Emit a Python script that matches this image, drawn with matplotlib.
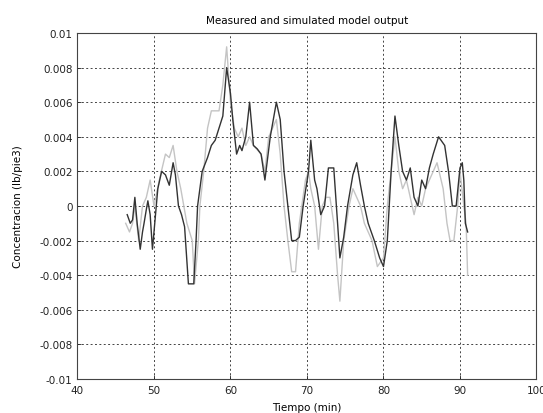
import matplotlib
matplotlib.use('Agg')
import matplotlib.pyplot as plt
import numpy as np

# measured output (dark line)
t_meas = [46.5, 46.9, 47.2, 47.5, 47.8, 48.2, 48.5, 48.7, 49.0, 49.2, 49.5, 49.8, 50.0,
          50.5, 51.0, 51.5, 52.0, 52.5, 52.8, 53.2, 53.6, 54.0, 54.5, 55.2, 55.5, 55.7,
          56.3, 57.0, 57.5, 58.0, 58.5, 59.0, 59.5, 60.0, 60.3, 60.8, 61.2, 61.5, 62.0,
          62.5, 63.0, 63.5, 64.0, 64.5, 65.2, 66.0, 66.5, 67.0, 67.5, 68.0, 68.5, 69.0,
          69.5, 70.2, 70.5, 71.0, 71.3, 71.8, 72.3, 72.8, 73.5, 74.0, 74.3, 74.8, 75.3,
          76.0, 76.5, 77.0, 77.5, 78.0, 78.8, 79.5, 80.0, 80.5, 81.0, 81.5, 82.0, 82.5,
          83.0, 83.5, 84.0, 84.5, 85.0, 85.5, 86.0, 86.5, 87.2, 88.0, 88.5, 89.0, 89.5,
          90.0, 90.3, 90.5, 90.7, 91.0]
y_meas = [-0.0005, -0.0010, -0.0008, 0.0005, -0.0010, -0.0025, -0.0015, -0.0010, -0.0002, 0.0003,
          -0.0005, -0.0025, -0.0015, 0.0010, 0.0020, 0.0018, 0.0012, 0.0025, 0.0018, 0.0000,
          -0.0005, -0.0012, -0.0045, -0.0045, -0.0020, 0.0000, 0.0020, 0.0028, 0.0035, 0.0038,
          0.0045, 0.0052, 0.0080, 0.0065, 0.0050, 0.0030, 0.0035, 0.0032, 0.0040, 0.0060,
          0.0035, 0.0033, 0.0030, 0.0015, 0.0040, 0.0060, 0.0050, 0.0020, 0.0000, -0.0020,
          -0.0020, -0.0018, 0.0000, 0.0020, 0.0038, 0.0015, 0.0010, -0.0005, 0.0000, 0.0022,
          0.0022, -0.0010, -0.0030, -0.0018, 0.0000, 0.0018, 0.0025, 0.0012, 0.0000, -0.0010,
          -0.0020, -0.0030, -0.0035, -0.0020, 0.0020, 0.0052, 0.0035, 0.0020, 0.0015, 0.0022,
          0.0005, 0.0000, 0.0015, 0.0010, 0.0022, 0.0030, 0.0040, 0.0035, 0.0020, 0.0000,
          0.0000, 0.0022, 0.0025, 0.0015, -0.0010, -0.0015]

# simulated model output (light line)
t_sim = [46.3, 46.8, 47.2, 47.5, 48.0, 48.5, 49.0, 49.5, 50.0, 50.7, 51.5, 52.0, 52.5,
         53.0, 53.5, 54.3, 55.0, 55.3, 55.8, 56.0, 56.5, 57.0, 57.5, 58.5, 59.0, 59.5,
         60.0, 60.5, 61.0, 61.5, 62.0, 62.5, 63.0, 64.0, 64.5, 65.0, 66.0, 66.5, 67.0,
         67.5, 68.0, 68.5, 69.0, 69.8, 70.2, 70.5, 71.0, 71.5, 72.0, 72.5, 73.0, 73.5,
         74.0, 74.3, 74.8, 75.5, 76.0, 76.5, 77.0, 77.5, 78.5, 79.2, 80.0, 80.5, 81.0,
         81.5, 82.0, 82.5, 83.0, 83.5, 84.0, 84.5, 85.0, 85.5, 86.0, 86.5, 87.0, 87.8,
         88.3, 88.7, 89.2, 89.7, 90.0, 90.5, 90.8, 91.0]
y_sim = [-0.0010, -0.0015, -0.0010, 0.0000, -0.0020, 0.0000, 0.0005, 0.0015, 0.0000, 0.0015,
         0.0030, 0.0028, 0.0035, 0.0020, 0.0010, -0.0010, -0.0020, -0.0045, -0.0020, 0.0000,
         0.0020, 0.0045, 0.0055, 0.0055, 0.0070, 0.0092, 0.0060, 0.0045, 0.0040, 0.0045,
         0.0035, 0.0040, 0.0035, 0.0030, 0.0020, 0.0040, 0.0050, 0.0030, 0.0000, -0.0020,
         -0.0038, -0.0038, -0.0010, 0.0015, 0.0020, 0.0010, 0.0000, -0.0025, 0.0000, 0.0005,
         0.0005, -0.0010, -0.0040, -0.0055, -0.0020, 0.0000, 0.0010, 0.0005, 0.0000, -0.0010,
         -0.0020, -0.0035, -0.0030, 0.0000, 0.0020, 0.0040, 0.0020, 0.0010, 0.0015, 0.0005,
         -0.0005, 0.0005, 0.0000, 0.0010, 0.0015, 0.0020, 0.0025, 0.0010, -0.0010, -0.0020,
         -0.0020, 0.0000, 0.0020, 0.0000, -0.0010, -0.0040]

xticks = [40, 50, 60, 70, 80, 90, 100]
yticks = [-0.01, -0.008, -0.006, -0.004, -0.002, 0, 0.002, 0.004, 0.006, 0.008, 0.01]
yticklabels = ['-0.01', '-0.008', '-0.006', '-0.004', '-0.002', '0',
               '0.002', '0.004', '0.006', '0.008', '0.01']

fig = plt.figure(figsize=(5.43, 4.14), dpi=100)
ax = fig.add_axes([0.1427, 0.0821, 0.8453, 0.8358])

ax.plot(t_sim, y_sim, color='#c4c4c4', lw=1.0)
ax.plot(t_meas, y_meas, color='#333333', lw=1.0)

ax.set_xlim(40, 100)
ax.set_ylim(-0.01, 0.01)
ax.set_xticks(xticks)
ax.set_yticks(yticks)
ax.set_yticklabels(yticklabels)
ax.tick_params(labelsize=7.5, direction='in', length=3, width=0.6, colors='#222222')
ax.tick_params(axis='x', pad=4)
ax.grid(True, linestyle=(0, (2, 2.5)), color='#444444', linewidth=0.7)
for s in ax.spines.values():
    s.set_linewidth(0.8)
    s.set_color('#444444')

ax.set_title('Measured and simulated model output', fontsize=7.5, pad=7)
ax.set_xlabel('Tiempo (min)', fontsize=7.5)
ax.set_ylabel('Concentracion (lb/pie3)', fontsize=7.5)
# label positions, as in the reference
ax.xaxis.set_label_coords(0.5, -0.065)
ax.yaxis.set_label_coords(-0.118, 0.5)

fig.savefig('out.png', dpi=100)
